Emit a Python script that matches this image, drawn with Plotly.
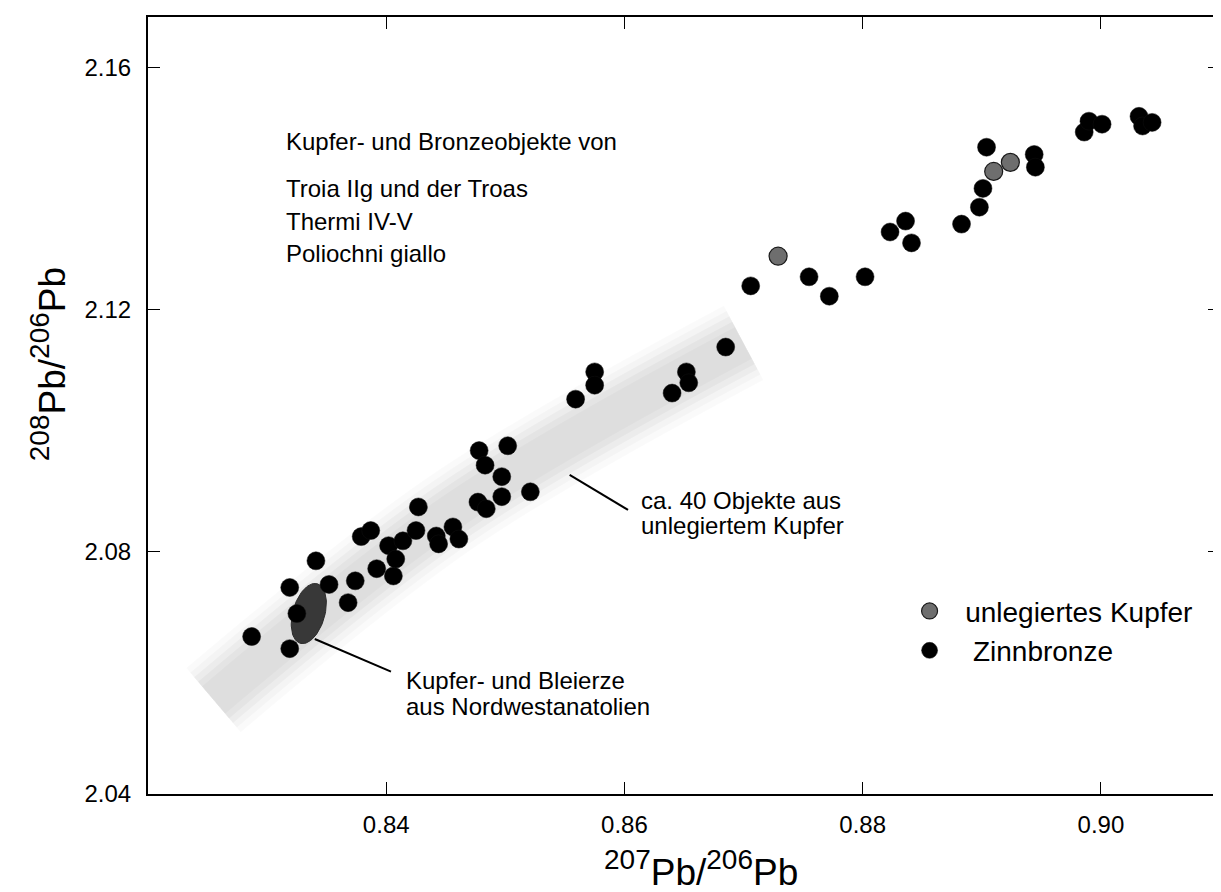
import numpy as np
import plotly.graph_objects as go

# ---------------- data ----------------
bronze_x = [0.9032, 0.9035, 0.9043, 0.8986, 0.8990, 0.9001, 0.8944, 0.8945, 0.8904, 0.8901,
            0.8898, 0.8883, 0.8836, 0.8823, 0.8841, 0.8802, 0.8772, 0.8755, 0.8706, 0.8685,
            0.8652, 0.8654, 0.8640, 0.8575, 0.8575, 0.8559, 0.8502, 0.8478, 0.8483, 0.8497,
            0.8521, 0.8497, 0.8477, 0.8484, 0.8427, 0.8379, 0.8387, 0.8402, 0.8414, 0.8425,
            0.8392, 0.8406, 0.8408, 0.8442, 0.8456, 0.8461, 0.8444, 0.8374, 0.8368, 0.8352,
            0.8341, 0.8319, 0.8325, 0.8287, 0.8319]
bronze_y = [2.1519, 2.1503, 2.1509, 2.1493, 2.1511, 2.1506, 2.1456, 2.1435, 2.1468, 2.1400,
            2.1369, 2.1341, 2.1346, 2.1328, 2.1310, 2.1254, 2.1222, 2.1254, 2.1239, 2.1138,
            2.1097, 2.1079, 2.1062, 2.1097, 2.1075, 2.1052, 2.0975, 2.0967, 2.0943, 2.0924,
            2.0899, 2.0891, 2.0882, 2.0871, 2.0874, 2.0825, 2.0835, 2.0810, 2.0818, 2.0835,
            2.0772, 2.0760, 2.0788, 2.0826, 2.0841, 2.0821, 2.0813, 2.0752, 2.0716, 2.0746,
            2.0785, 2.0741, 2.0698, 2.0660, 2.0640]
copper_x = [0.8729, 0.8910, 0.8924]
copper_y = [2.1288, 2.1428, 2.1443]

# field of ~40 unalloyed copper objects (centre line of grey band)
band_x = [0.8255, 0.8459, 0.8700]
band_y = [2.0555, 2.0871, 2.1145]

# NW-Anatolian ore field (ellipse): centre in data units
ore_center = (0.8335, 2.0698)

x_ticks = [0.84, 0.86, 0.88, 0.90]
y_ticks = [2.04, 2.08, 2.12, 2.16]
x_range = [0.82, 0.91]
y_range = [2.04, 2.1683]

legend_names = ["&nbsp;&nbsp;unlegiertes Kupfer", "&nbsp;&nbsp;&nbsp;Zinnbronze"]
header_lines = ["Kupfer- und Bronzeobjekte von", "Troia IIg und der Troas",
                "Thermi IV-V", "Poliochni giallo"]

# ---------------- layout geometry ----------------
W, H = 1221, 892
ML, MR, MT, MB = 140, 7, 8, 106
PW, PH = W - ML - MR, H - MT - MB
dx_px = (x_range[1] - x_range[0]) / PW
dy_px = (y_range[1] - y_range[0]) / PH

FONT = "Liberation Sans, Arial, sans-serif"

fig = go.Figure()

# grey band (soft edges by layered translucent strokes)
for w, a in [(84, 0.02), (72, 0.025), (60, 0.03), (48, 0.03), (36, 0.025)]:
    fig.add_trace(go.Scatter(x=band_x, y=band_y, mode="lines",
                             line=dict(color=f"rgba(0,0,0,{a})", width=w, shape="spline"),
                             hoverinfo="skip", showlegend=False))

# ore ellipse
t = np.linspace(0, 2 * np.pi, 80)
a_px, b_px, ang = 31, 16, np.deg2rad(74)
ex_px = a_px * np.cos(t) * np.cos(ang) - b_px * np.sin(t) * np.sin(ang)
ey_px = a_px * np.cos(t) * np.sin(ang) + b_px * np.sin(t) * np.cos(ang)
fig.add_trace(go.Scatter(x=ore_center[0] + ex_px * dx_px, y=ore_center[1] + ey_px * dy_px,
                         mode="lines", fill="toself", fillcolor="#383838",
                         line=dict(color="#2a2a2a", width=1), hoverinfo="skip",
                         showlegend=False))

fig.add_trace(go.Scatter(x=bronze_x, y=bronze_y, mode="markers", name=legend_names[1],
                         legendrank=2,
                         marker=dict(size=18, color="#000000", line=dict(color="#111", width=0.5))))
fig.add_trace(go.Scatter(x=copper_x, y=copper_y, mode="markers", name=legend_names[0],
                         legendrank=1,
                         marker=dict(size=18, color="#6e6e6e", line=dict(color="#1a1a1a", width=1.2))))

# leader lines
fig.add_shape(type="line", xref="x", yref="y", x0=0.8340, y0=2.0656, x1=0.8404, y1=2.0602,
              line=dict(color="black", width=2))
fig.add_shape(type="line", xref="x", yref="y", x0=0.8554, y0=2.0927, x1=0.8603, y1=2.0869,
              line=dict(color="black", width=2))

def txt(x, y, s, size=24):
    fig.add_annotation(x=x, y=y, xref="x", yref="y", text=s, showarrow=False,
                       xanchor="left", yanchor="middle", font=dict(size=size, color="black", family=FONT))

hy = [2.1478, 2.1399, 2.1346, 2.1292]
for yy, s in zip(hy, header_lines):
    txt(0.8314, yy, s)
txt(0.8415, 2.0587, "Kupfer- und Bleierze")
txt(0.8415, 2.0544, "aus Nordwestanatolien")
txt(0.8612, 2.0884, "ca. 40 Objekte aus")
txt(0.8612, 2.0843, "unlegiertem Kupfer")

# axis titles
SUP = '<sup><span style="font-size:28px">{}</span></sup>'
title_x = SUP.format("207") + "Pb/" + SUP.format("206") + "Pb"
title_y = SUP.format("208") + "Pb/" + SUP.format("206") + "Pb"
fig.add_annotation(xref="x", yref="paper", x=0.8664, y=-0.096, xanchor="center", yanchor="middle",
                   text=title_x, showarrow=False,
                   font=dict(size=37, color="black", family=FONT))
fig.add_annotation(xref="paper", yref="y", x=-100 / PW, y=2.1110, xanchor="center",
                   yanchor="middle", textangle=-90,
                   text=title_y, showarrow=False,
                   font=dict(size=37, color="black", family=FONT))

axis_common = dict(showline=True, linecolor="black", linewidth=2, mirror="ticks",
                   ticks="inside", ticklen=12, tickwidth=1, tickcolor="black",
                   showgrid=False, zeroline=False, tickformat=".2f",
                   tickfont=dict(size=24, color="black", family=FONT))
fig.update_xaxes(range=x_range, tickvals=x_ticks, ticklabelstandoff=8, **axis_common)
fig.update_yaxes(range=y_range, tickvals=y_ticks, ticklabelstandoff=10, **axis_common)

fig.update_layout(
    width=W, height=H, margin=dict(l=ML, r=MR, t=MT, b=MB),
    paper_bgcolor="white", plot_bgcolor="white",
    font=dict(family=FONT, color="black"),
    legend=dict(x=(903 - ML) / PW, y=(786 - 578) / PH, xanchor="left", yanchor="top",
                font=dict(size=28, color="black", family=FONT), itemsizing="trace",
                bgcolor="rgba(0,0,0,0)", tracegroupgap=0),
)

fig.write_html("out.html")
